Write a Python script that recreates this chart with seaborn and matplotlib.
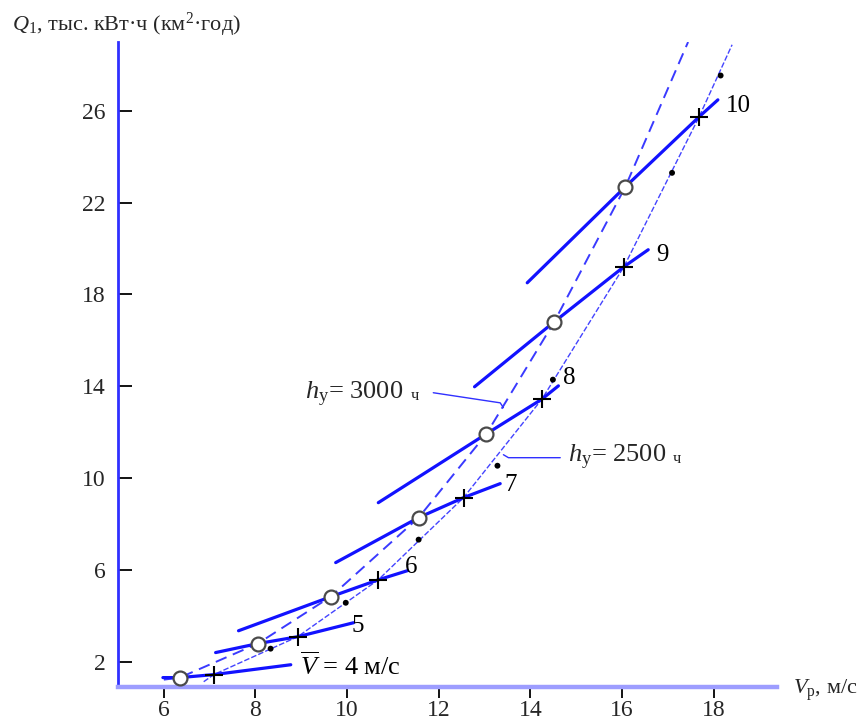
import matplotlib
matplotlib.use("Agg")
import matplotlib.pyplot as plt
import seaborn as sns
import pandas as pd
from matplotlib.transforms import offset_copy

sns.set_theme(style="white")
plt.rcParams['font.family'] = ['Liberation Serif', 'DejaVu Serif']
plt.rcParams['mathtext.fontset'] = 'custom'
plt.rcParams['mathtext.rm'] = 'Liberation Serif'
plt.rcParams['mathtext.it'] = 'Liberation Serif:italic'
plt.rcParams['mathtext.bf'] = 'Liberation Serif:bold'

# ---------------- data ----------------
mean_speed = [4, 5, 6, 7, 8, 9, 10]                       # V̄, m/s
line_start_v = [5.98, 7.13, 7.63, 9.75, 10.68, 12.78, 13.93]
line_start_q = [1.31, 2.40, 3.35, 6.32, 8.93, 13.98, 18.51]
line_end_v = [8.77, 10.14, 11.32, 13.34, 14.61, 16.57, 18.09]
line_end_q = [1.87, 3.70, 5.97, 9.76, 14.02, 19.95, 26.48]

# points hу = 3000 h (open circles)
h3000_v = [6.35, 8.05, 9.64, 11.56, 13.04, 14.52, 16.07]
h3000_q = [1.31, 2.79, 4.83, 8.28, 11.93, 16.81, 22.69]
# points hу = 2500 h (plus marks)
h2500_v = [7.09, 8.92, 10.68, 12.54, 14.25, 16.04, 17.68]
h2500_q = [1.44, 3.09, 5.57, 9.15, 13.44, 19.21, 25.74]

# envelope curves (ends)
curve3000_v = [6.00] + h3000_v + [17.44]
curve3000_q = [1.22] + h3000_q + [29.0]
curve2500_v = [6.87] + h2500_v + [18.40]
curve2500_q = [1.13] + h2500_q + [28.88]

# small black dots
dot_v = [8.33, 9.97, 11.56, 13.28, 14.49, 17.09, 18.15]
dot_q = [2.57, 4.57, 7.32, 10.54, 14.29, 23.30, 27.54]

x_ticks = [6, 8, 10, 12, 14, 16, 18]
y_ticks = [2, 6, 10, 14, 18, 22, 26]
line_labels = [r"$\overline{V}$ = 4 м/с", "5", "6", "7", "8", "9", "10"]
label_v = [8.98, 10.10, 11.27, 13.43, 14.71, 16.74, 18.26]
label_q = [1.83, 3.57, 6.14, 9.71, 14.37, 19.73, 26.20]

hu_labels = [r"$h_{\mathrm{у}}$= 3000", r"$h_{\mathrm{у}}$= 2500"]
hu_label_v = [9.09, 14.82]
hu_label_q = [13.63, 10.89]
leader3000_v = [11.88, 13.34, 13.41]
leader3000_q = [13.72, 13.28, 13.07]
leader2500_v = [13.41, 13.52, 14.65]
leader2500_q = [11.02, 10.89, 10.89]

# ---------------- build tables ----------------
rows = []
for i, V in enumerate(mean_speed):
    pts = [(line_start_v[i], line_start_q[i]), (h3000_v[i], h3000_q[i]),
           (h2500_v[i], h2500_q[i]), (line_end_v[i], line_end_q[i])]
    for k, (v, q) in enumerate(pts):
        rows.append({"V": V, "order": k, "vr": v, "q": q})
lines_df = pd.DataFrame(rows)

BLUE = "#1212ff"

fig = plt.figure(figsize=(8.59, 7.22), dpi=100)
ax = fig.add_axes([118 / 859, 1 - 687 / 722, (777 - 118) / 859, (687 - 42) / 722])

sns.lineplot(data=lines_df, x="vr", y="q", units="V", estimator=None, sort=False,
             color=BLUE, lw=2.3, ax=ax, zorder=3)

sns.lineplot(x=curve3000_v, y=curve3000_q, sort=False, color="#3a3aff", lw=1.4,
             linestyle=(0, (6, 3.5)), ax=ax, zorder=2)
sns.lineplot(x=curve2500_v, y=curve2500_q, sort=False, color="#4444ff", lw=1.0,
             linestyle=(0, (4, 1.5)), ax=ax, zorder=2)

sns.scatterplot(x=dot_v, y=dot_q, s=18, color="black", edgecolor="none", ax=ax, zorder=4)
sns.scatterplot(x=h3000_v, y=h3000_q, marker="o", s=100, color="white",
                edgecolor="#4a4a4a", linewidth=1.6, ax=ax, zorder=5)
sns.scatterplot(x=h2500_v, y=h2500_q, marker="+", s=170, color="black",
                linewidth=1.5, ax=ax, zorder=6)

for i, (txt, v, q) in enumerate(zip(line_labels, label_v, label_q)):
    ax.text(v, q, txt, fontsize=19 if i == 0 else 18, ha="left", va="center",
            color="black")

# hу annotations with leader lines
fig.canvas.draw()
renderer = fig.canvas.get_renderer()
for txt, v, q in zip(hu_labels, hu_label_v, hu_label_q):
    t = ax.text(v, q, txt, fontsize=19, ha="left", va="center")
    bb = t.get_window_extent(renderer)
    x_end_pts = (bb.x1 - bb.x0) * 72 / fig.dpi + 5
    tr = offset_copy(ax.transData, fig=fig, x=x_end_pts, y=-1, units="points")
    ax.text(v, q, "ч", fontsize=12, ha="left", va="center", transform=tr)
ax.plot(leader3000_v, leader3000_q, color="#3030ff", lw=1.0, zorder=2)
ax.plot(leader2500_v, leader2500_q, color="#3030ff", lw=1.0, zorder=2)

ax.set_xlim(5.0, 19.38)
ax.set_ylim(0.9, 29.0)
ax.set_xticks(x_ticks)
ax.set_yticks(y_ticks)
ax.set_xticklabels([str(t) for t in x_ticks], fontsize=17)
ax.set_yticklabels([str(t) for t in y_ticks], fontsize=17)
ax.set_xlabel("")
ax.set_ylabel("")

for s in ["top", "right"]:
    ax.spines[s].set_visible(False)
ax.spines["left"].set_color("#3030ff")
ax.spines["left"].set_linewidth(2.0)
ax.spines["bottom"].set_color("#9d9dff")
ax.spines["bottom"].set_linewidth(3.2)
ax.spines["left"].set_zorder(1)
ax.spines["bottom"].set_zorder(1)

ax.tick_params(axis="y", direction="in", length=10, width=1.3, color="black", pad=9,
               left=True)
ax.tick_params(axis="x", direction="out", length=8, width=1.3, color="black", pad=1,
               bottom=True)

fig.text(12 / 859, 1 - 25 / 722, r"$Q_{1}$, тыс. кВт·ч (км$^{2}$·год)", fontsize=16,
         ha="left", va="center")
fig.text(793 / 859, 1 - 690 / 722, r"$V_{\mathrm{р}}$, м/с", fontsize=16,
         ha="left", va="center")

fig.savefig("out.png", dpi=100)
